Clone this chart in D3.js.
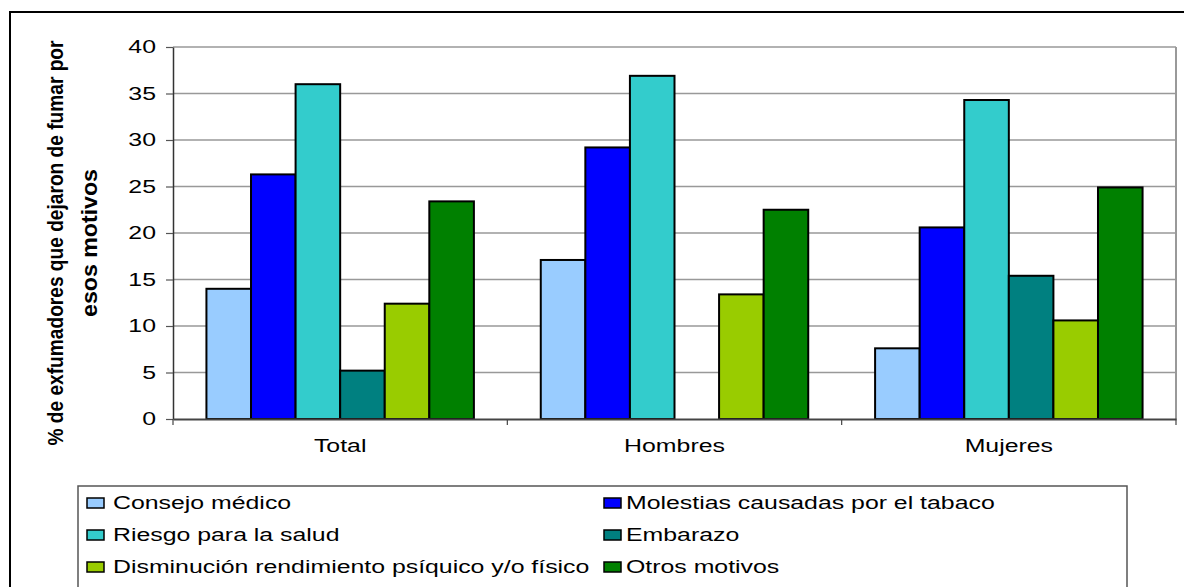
<!DOCTYPE html>
<html><head><meta charset="utf-8">
<script src="https://cdn.jsdelivr.net/npm/d3@7"></script>
<style>
html,body{margin:0;padding:0;background:#fff;}
svg{display:block;font-family:"Liberation Sans",Arial,sans-serif;}
</style></head>
<body>
<svg id="chart" width="1184" height="587"></svg>
<script>
const categories = ["Total", "Hombres", "Mujeres"];
const seriesNames = ["Consejo médico", "Molestias causadas por el tabaco", "Riesgo para la salud", "Embarazo", "Disminución rendimiento psíquico y/o físico", "Otros motivos"];
const seriesColors = ["#99CCFF", "#0000FF", "#33CCCC", "#008080", "#99CC00", "#008000"];
const consejoMedico = [14.0, 17.1, 7.6];
const molestias = [26.3, 29.2, 20.6];
const riesgo = [36.0, 36.9, 34.3];
const embarazo = [5.2, null, 15.4];
const disminucion = [12.4, 13.4, 10.6];
const otros = [23.4, 22.5, 24.9];
const yTicks = [0, 5, 10, 15, 20, 25, 30, 35, 40];
const yTitleLines = ["% de exfumadores que dejaron de fumar por", "esos motivos"];

(function () {
const seriesValues = [consejoMedico, molestias, riesgo, embarazo, disminucion, otros];
const SX = 1.42; // horizontal text stretch
const FS = 17.5;

const svg = d3.select("#chart");
svg.append("rect").attr("x", 10).attr("y", 12).attr("width", 1200).attr("height", 600)
  .attr("fill", "none").attr("stroke", "#000").attr("stroke-width", 2);

const pL = 173, pR = 1176, pT = 47, pB = 419;
const x0 = d3.scaleBand().domain(categories).range([pL, pR]).padding(0);
const x1 = d3.scaleBand().domain(seriesNames).range([0, x0.bandwidth()]).paddingInner(0).paddingOuter(0.75);
const y = d3.scaleLinear().domain([0, 40]).range([pB, pT]);

svg.append("g").selectAll("line").data(yTicks.filter(d => d > 0)).join("line")
  .attr("x1", pL).attr("x2", pR).attr("y1", d => y(d)).attr("y2", d => y(d))
  .attr("stroke", "#999").attr("stroke-width", 1.5);
svg.append("line").attr("x1", pR).attr("x2", pR).attr("y1", pT).attr("y2", pB)
  .attr("stroke", "#999").attr("stroke-width", 2);

const rows = [];
categories.forEach((c, ci) => seriesNames.forEach((s, si) => {
  const v = seriesValues[si][ci];
  if (v != null) rows.push({c, s, v, color: seriesColors[si]});
}));
svg.append("g").selectAll("rect").data(rows).join("rect")
  .attr("x", d => x0(d.c) + x1(d.s))
  .attr("y", d => y(d.v))
  .attr("width", x1.bandwidth())
  .attr("height", d => y(0) - y(d.v))
  .attr("fill", d => d.color)
  .attr("stroke", "#000").attr("stroke-width", 2);

const yAxis = svg.append("g").attr("transform", `translate(${pL},0)`)
  .call(d3.axisLeft(y).tickValues(yTicks).tickSize(7).tickSizeOuter(0));
yAxis.select(".domain").attr("stroke", "#333").attr("stroke-width", 1.5);
yAxis.selectAll(".tick line").attr("stroke", "#555").attr("stroke-width", 1.2);
yAxis.selectAll(".tick text")
  .attr("x", 0).attr("dy", null).attr("dominant-baseline", "central")
  .attr("transform", `translate(-17,0) scale(${SX},1)`)
  .attr("font-size", FS).attr("font-family", "Liberation Sans, Arial, sans-serif").attr("fill", "#000");

const xAxis = svg.append("g").attr("transform", `translate(0,${pB})`)
  .call(d3.axisBottom(x0).tickSize(0).tickSizeOuter(0));
xAxis.select(".domain").attr("stroke", "#444").attr("stroke-width", 2);
xAxis.selectAll(".tick text")
  .attr("y", 0).attr("dy", null)
  .attr("transform", `translate(0,33) scale(${SX},1)`)
  .attr("font-size", FS).attr("font-family", "Liberation Sans, Arial, sans-serif").attr("fill", "#000");
const bounds = categories.map(c => x0(c)).concat([x0(categories[categories.length - 1]) + x0.bandwidth()]);
svg.append("g").selectAll("line").data(bounds).join("line")
  .attr("x1", d => d).attr("x2", d => d).attr("y1", pB).attr("y2", pB + 6)
  .attr("stroke", "#444").attr("stroke-width", 1.2);

const titleX = [56, 90];
const titleLen = [405, 148];
yTitleLines.forEach((t, i) => {
  svg.append("text")
    .attr("transform", `translate(${titleX[i]},243) rotate(-90) scale(1,1.38)`)
    .attr("text-anchor", "middle").attr("dominant-baseline", "central")
    .attr("font-size", 16).attr("font-weight", "bold")
    .attr("textLength", titleLen[i]).attr("lengthAdjust", "spacingAndGlyphs")
    .text(t);
});

const lg = svg.append("g");
lg.append("rect").attr("x", 78).attr("y", 486).attr("width", 1049).attr("height", 120)
  .attr("fill", "#fff").attr("stroke", "#555").attr("stroke-width", 1.5);
const colText = [113, 626];
const colSw = [87, 604];
seriesNames.forEach((s, i) => {
  const col = i % 2, row = Math.floor(i / 2);
  const cy = 503 + row * 32;
  lg.append("rect").attr("x", colSw[col]).attr("y", cy - 5).attr("width", 17).attr("height", 10)
    .attr("fill", seriesColors[i]).attr("stroke", "#000").attr("stroke-width", 1.5);
  lg.append("text").attr("transform", `translate(${colText[col]},${cy}) scale(${SX},1)`)
    .attr("dominant-baseline", "central").attr("font-size", FS).text(s);
});
})();
</script>
</body></html>
